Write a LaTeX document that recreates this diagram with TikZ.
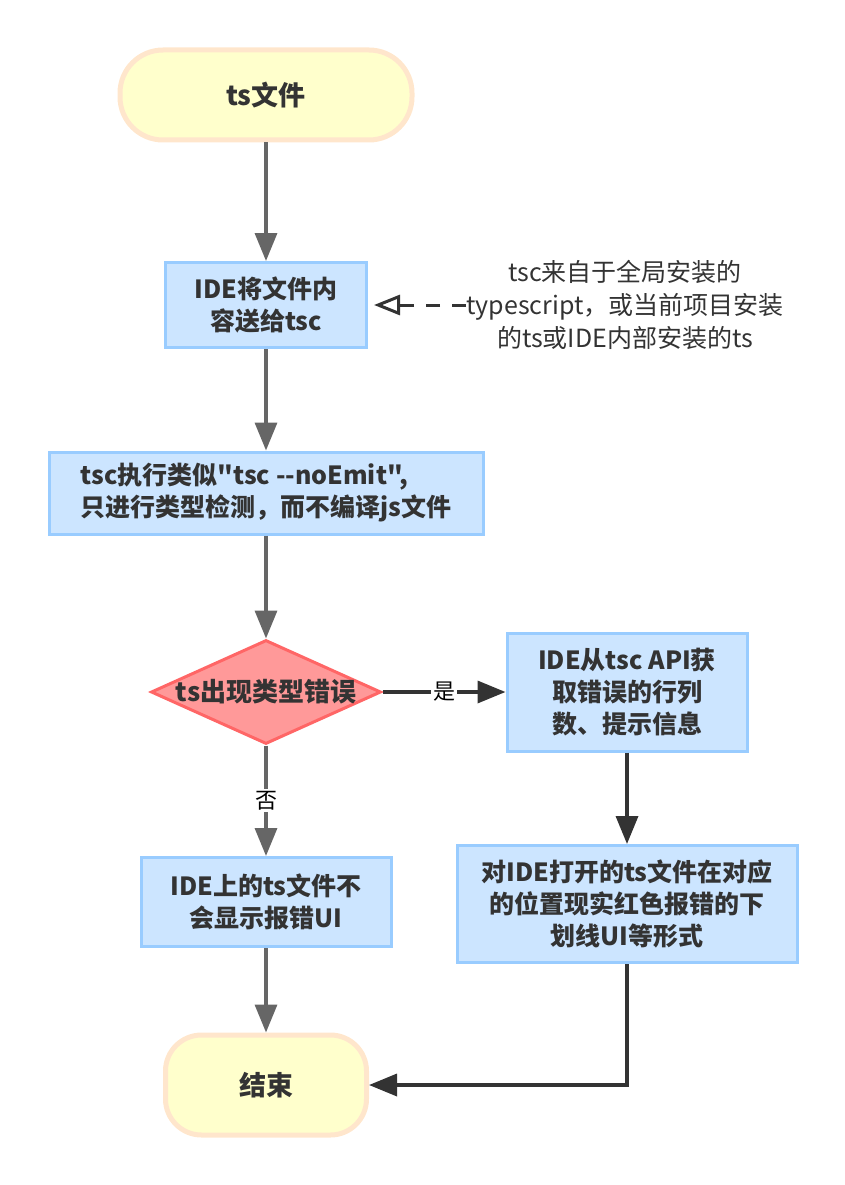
\documentclass[tikz,border=0pt]{standalone}
\usepackage{fontspec}
\setmainfont{Noto Sans CJK SC}[Ligatures=TeXOff]
\usetikzlibrary{positioning,shapes.geometric,arrows.meta}

\definecolor{startfill}{HTML}{FFFFCC}
\definecolor{startline}{HTML}{FFE6CC}
\definecolor{procfill}{HTML}{CCE5FF}
\definecolor{procline}{HTML}{99CCFF}
\definecolor{decfill}{HTML}{FF9999}
\definecolor{decline}{HTML}{FF6666}
\definecolor{txtgray}{HTML}{333333}
\definecolor{linegray}{HTML}{666666}

\tikzstyle{startstop} = [rectangle, rounded corners=43pt, minimum width=292pt, minimum height=90pt, text centered, line width=5pt, draw=startline, fill=startfill, text=txtgray, font=\fontsize{27}{32}\selectfont\bfseries]
\tikzstyle{process} = [rectangle, inner sep=0pt, align=center, line width=3pt, draw=procline, fill=procfill, text=txtgray, font=\fontsize{25}{32}\selectfont\bfseries]
\tikzstyle{decision} = [diamond, inner sep=0pt, minimum width=230pt, minimum height=104pt, line width=3pt, draw=decline, fill=decfill]
\tikzstyle{note} = [inner sep=0pt, align=center, text=txtgray, font=\fontsize{25}{33}\selectfont]
\tikzstyle{branch} = [fill=white, inner sep=2pt, text=black, font=\fontsize{22}{26}\selectfont]
\tikzstyle{arrow} = [line width=3.5pt, draw=linegray, -{Triangle[length=28pt,width=22pt]}]
\tikzstyle{darrow} = [line width=3.5pt, draw=txtgray, -{Triangle[length=28pt,width=22pt]}]
\tikzstyle{notearrow} = [line width=3pt, draw=txtgray, dash pattern=on 14pt off 12pt, -{Triangle[open,length=26pt,width=20pt]}, shorten >=6pt]

\begin{document}
\begin{tikzpicture}[x=1pt, y=-1pt, node distance=200pt]
\useasboundingbox (0,0) rectangle (844,1185);

\node (start) [startstop] at (266,95) {ts文件};
\node (send) [process, minimum width=201pt, minimum height=85pt, below of=start, node distance=210pt] {IDE将文件内\\容送给tsc};
\node (note) [note, right of=send, node distance=359pt] {tsc来自于全局安装的\\typescript，或当前项目安装\\的ts或IDE内部安装的ts};
\node (check) [process, align=left, minimum width=434pt, minimum height=82pt, below of=send, node distance=188pt] {tsc执行类似"tsc --noEmit",\\只进行类型检测，而不编译js文件};
\node (dec) [decision, below of=check, node distance=199pt, label={[text=txtgray, font=\fontsize{26}{32}\selectfont\bfseries]center:ts出现类型错误}] {};
\node (fetch) [process, minimum width=240pt, minimum height=118pt, right of=dec, node distance=361pt] {IDE从tsc API获\\取错误的行列\\数、提示信息};
\node (mark) [process, minimum width=340pt, minimum height=117pt, below of=fetch, node distance=212pt] {对IDE打开的ts文件在对应\\的位置现实红色报错的下\\划线UI等形式};
\node (nope) [process, minimum width=250pt, minimum height=89pt, below of=dec, node distance=210pt] {IDE上的ts文件不\\会显示报错UI};
\node (stop) [startstop, rounded corners=36pt, minimum width=201pt, minimum height=100pt, below of=nope, node distance=183pt] {结束};

\draw [arrow] (start) -- (send);
\draw [notearrow] (note.west) -- (send.east);
\draw [arrow] (send) -- (check);
\draw [arrow] (check) -- (dec);
\draw [darrow] (dec) -- node[branch] {是} (fetch);
\draw [arrow] (dec) -- node[branch] {否} (nope);
\draw [darrow] (fetch) -- (mark);
\draw [arrow] (nope) -- (stop);
\draw [darrow] (mark.south) |- (stop.east);

\end{tikzpicture}
\end{document}
